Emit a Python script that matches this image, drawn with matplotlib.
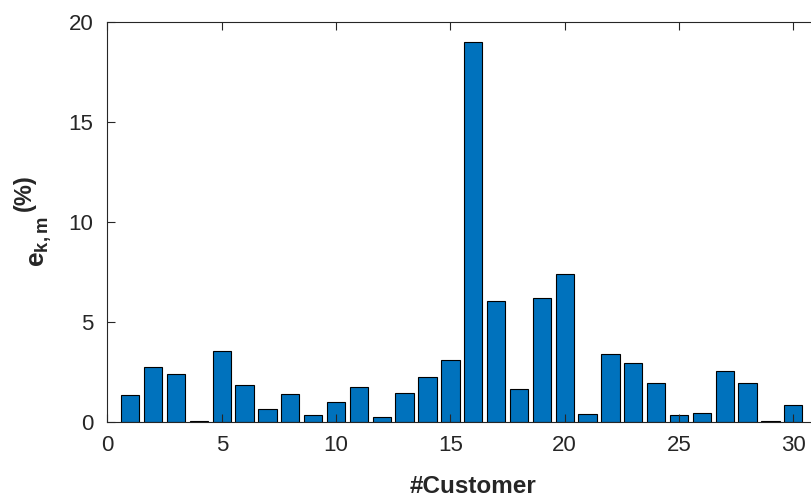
import matplotlib
matplotlib.use("Agg")
import matplotlib.pyplot as plt
import numpy as np

plt.rcParams["font.family"] = ["Liberation Sans", "DejaVu Sans"]
plt.rcParams["mathtext.fontset"] = "custom"
plt.rcParams["mathtext.rm"] = "Liberation Sans"
plt.rcParams["mathtext.it"] = "Liberation Sans:italic"
plt.rcParams["mathtext.bf"] = "Liberation Sans:bold"

# Error per customer (%)
customers = np.arange(1, 31)
error_pct = [1.35, 2.75, 2.4, 0.07, 3.58, 1.85, 0.65, 1.42, 0.35, 1.02,
             1.75, 0.27, 1.45, 2.25, 3.1, 19.0, 6.07, 1.65, 6.22, 7.4,
             0.43, 3.42, 2.98, 1.98, 0.38, 0.45, 2.57, 1.98, 0.08, 0.85]

fig = plt.figure(figsize=(8.11, 5.01), dpi=100)
# axes run a little past the right edge of the figure
ax = fig.add_axes([0.1325, 0.157, 0.902, 0.7985])

ax.bar(customers, error_pct, width=0.8, color="#0072BD",
       edgecolor="black", linewidth=0.8)

ax.set_xlim(0, 32)
ax.set_ylim(0, 20)
ax.set_xticks([0, 5, 10, 15, 20, 25, 30])
ax.set_yticks([0, 5, 10, 15, 20])

dark = "#262626"
for s in ax.spines.values():
    s.set_color(dark)
    s.set_linewidth(0.8)
ax.tick_params(direction="in", length=6, width=0.8, colors=dark,
               labelsize=16, top=True, right=True)
ax.tick_params(axis="x", pad=9)
ax.tick_params(axis="y", pad=10)

ax.set_xlabel("#Customer", fontsize=17.5, fontweight="bold", color=dark,
              labelpad=14)

# y label: e_{k,m} with a raised (%)
fig.text(41 / 811, 1 - 242 / 501, r"$\mathbf{e_{k,m}}$", fontsize=19,
         fontweight="bold", color=dark, rotation=90, ha="center", va="center")
fig.text(24 / 811, 1 - 193 / 501, "(%)", fontsize=17, fontweight="bold",
         color=dark, rotation=90, ha="center", va="center")

fig.savefig("out.png", dpi=100)
